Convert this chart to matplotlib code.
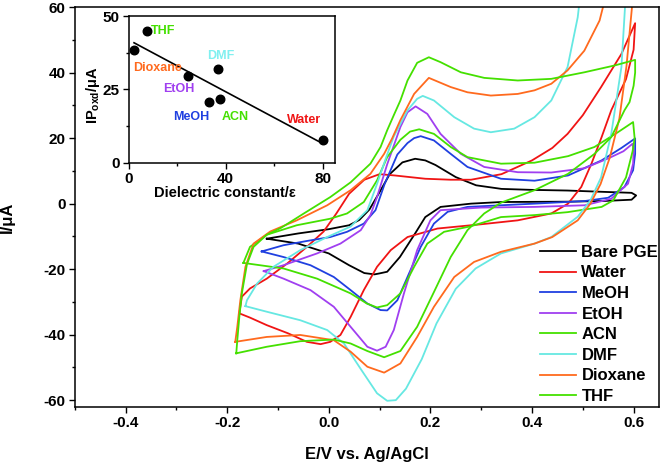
import numpy as np
import matplotlib
matplotlib.use('Agg')
import matplotlib.pyplot as plt
from matplotlib.ticker import MultipleLocator, FormatStrFormatter

plt.rcParams['font.family'] = ['Liberation Sans', 'DejaVu Sans']
plt.rcParams['font.weight'] = 'bold'
plt.rcParams['axes.labelweight'] = 'bold'
plt.rcParams['axes.unicode_minus'] = False
plt.rcParams['mathtext.fontset'] = 'custom'
plt.rcParams['mathtext.rm'] = 'Liberation Sans:bold'
plt.rcParams['mathtext.it'] = 'Liberation Sans:bold'
plt.rcParams['mathtext.bf'] = 'Liberation Sans:bold'

# cyclic voltammograms, E in V, I in uA (forward scan then reverse scan)
e_bare = [-0.122, -0.06, 0.00, 0.04, 0.06, 0.08, 0.10, 0.12, 0.145, 0.17, 0.19, 0.21, 0.25, 0.29, 0.34, 0.40, 0.47, 0.54, 0.596, 0.605,
          0.596, 0.54, 0.47, 0.34, 0.28, 0.22, 0.19, 0.17, 0.14, 0.115, 0.10, 0.09, 0.07, 0.04, 0.00, -0.06, -0.122]
i_bare = [-10.7, -9.1, -7.8, -6.6, -5.0, -1.8, 3.5, 9.0, 12.6, 13.7, 13.2, 11.8, 8.1, 5.6, 4.5, 4.2, 4.0, 3.6, 3.3, 2.5,
          1.2, 0.8, 0.6, 0.5, 0.0, -1.0, -4.1, -9.1, -16.3, -20.8, -21.3, -21.6, -21.2, -18.8, -15.2, -12.2, -10.7]

e_water = [-0.176, -0.171, -0.155, -0.122, -0.082, -0.043, -0.01, 0.015, 0.04, 0.07, 0.10, 0.13, 0.19, 0.24, 0.28, 0.34, 0.40, 0.44, 0.47, 0.50, 0.536, 0.576, 0.603,
           0.600, 0.585, 0.556, 0.537, 0.517, 0.497, 0.471, 0.438, 0.372, 0.30, 0.214, 0.155, 0.122, 0.095, 0.069, 0.043, 0.023, 0.003, -0.016, -0.043, -0.08, -0.122, -0.155, -0.176]
i_water = [-33.5, -28.4, -25.9, -22.9, -18.3, -13.2, -8.5, -3.0, 3.0, 7.3, 9.0, 8.6, 7.6, 7.3, 7.3, 9.0, 13.2, 17.0, 21.3, 27.0, 35.6, 45.7, 55.1,
           47.0, 38.0, 28.5, 20.3, 12.2, 5.1, 0.0, -3.0, -5.1, -6.3, -7.6, -10.2, -14.2, -19.3, -26.4, -34.6, -40.1, -42.2, -42.9, -42.2, -39.6, -37.1, -34.8, -33.5]

e_meoh = [-0.132, -0.089, -0.043, 0.003, 0.036, 0.069, 0.092, 0.11, 0.135, 0.155, 0.168, 0.181, 0.207, 0.240, 0.273, 0.339, 0.405, 0.471, 0.537, 0.576, 0.603,
          0.603, 0.599, 0.582, 0.55, 0.504, 0.405, 0.339, 0.273, 0.234, 0.207, 0.181, 0.155, 0.135, 0.115, 0.102, 0.076, 0.043, 0.010, -0.036, -0.089, -0.132]
i_meoh = [-14.6, -12.7, -11.4, -10.2, -8.6, -6.1, -2.0, 6.0, 15.0, 18.5, 20.0, 20.6, 19.3, 15.2, 11.2, 7.6, 7.0, 8.6, 13.2, 17.0, 19.9,
          15.2, 10.2, 5.1, 1.8, 0.8, 0.0, -0.5, -1.0, -2.5, -6.1, -13.2, -22.4, -29.5, -32.6, -32.5, -30.5, -26.4, -22.4, -18.8, -16.3, -14.6]

e_etoh = [-0.128, -0.089, -0.023, 0.023, 0.063, 0.082, 0.095, 0.115, 0.141, 0.155, 0.171, 0.194, 0.220, 0.260, 0.306, 0.372, 0.438, 0.503, 0.55, 0.580, 0.598,
          0.600, 0.599, 0.589, 0.556, 0.504, 0.405, 0.30, 0.22, 0.200, 0.174, 0.148, 0.128, 0.112, 0.095, 0.076, 0.043, 0.010, -0.036, -0.089, -0.128]
i_etoh = [-20.6, -18.8, -15.2, -12.2, -8.1, -3.5, 2.0, 12.0, 23.4, 27.9, 29.7, 27.4, 21.3, 15.2, 11.2, 9.6, 9.5, 10.8, 13.8, 16.0, 18.3,
          16.0, 12.2, 6.1, 1.5, -0.5, -1.0, -1.2, -2.0, -5.1, -14.2, -27.4, -38.6, -43.7, -44.9, -43.7, -37.6, -31.5, -26.4, -22.9, -20.6]

e_acn = [-0.168, -0.155, -0.122, -0.063, 0.003, 0.036, 0.069, 0.095, 0.115, 0.141, 0.160, 0.178, 0.207, 0.240, 0.273, 0.339, 0.405, 0.471, 0.523, 0.569, 0.599,
         0.602, 0.598, 0.585, 0.56, 0.537, 0.47, 0.405, 0.339, 0.280, 0.227, 0.194, 0.168, 0.141, 0.115, 0.095, 0.075, 0.043, -0.023, -0.089, -0.168]
i_acn = [-18.1, -13.2, -9.5, -6.6, -4.6, -3.0, 0.5, 7.1, 14.2, 19.5, 22.0, 22.7, 21.3, 17.3, 14.2, 12.2, 12.5, 14.5, 17.3, 21.8, 24.9,
         20.0, 16.0, 8.0, 1.0, -1.0, -2.6, -3.5, -4.1, -6.9, -8.6, -12.2, -19.3, -27.4, -31.0, -31.7, -30.5, -27.4, -22.9, -19.8, -18.1]

e_dmf = [-0.164, -0.161, -0.141, -0.109, -0.056, -0.003, 0.043, 0.076, 0.095, 0.115, 0.128, 0.155, 0.174, 0.185, 0.207, 0.247, 0.286, 0.319, 0.365, 0.405, 0.438, 0.470, 0.490, 0.496,
         0.585, 0.576, 0.556, 0.536, 0.515, 0.49, 0.438, 0.405, 0.339, 0.289, 0.250, 0.212, 0.183, 0.152, 0.132, 0.115, 0.095, 0.063, 0.030, -0.003, -0.056, -0.122, -0.164]
i_dmf = [-31.3, -29.5, -24.4, -19.3, -14.2, -10.2, -7.0, -2.0, 6.0, 15.0, 20.5, 28.5, 32.0, 32.9, 31.5, 26.4, 22.9, 21.8, 22.9, 26.4, 31.5, 41.7, 56.9, 65.0,
         65.0, 41.7, 21.3, 8.0, 1.0, -4.0, -10.2, -12.2, -15.2, -19.8, -26.0, -36.6, -47.5, -56.5, -60.0, -60.2, -57.9, -50.5, -42.7, -38.6, -35.6, -33.0, -31.3]

e_diox = [-0.184, -0.180, -0.174, -0.164, -0.148, -0.115, -0.063, -0.003, 0.043, 0.082, 0.109, 0.125, 0.141, 0.168, 0.197, 0.240, 0.273, 0.319, 0.372, 0.405, 0.438, 0.470, 0.503, 0.533, 0.543,
          0.598, 0.586, 0.572, 0.553, 0.535, 0.515, 0.490, 0.44, 0.405, 0.339, 0.286, 0.247, 0.207, 0.174, 0.141, 0.109, 0.076, 0.043, 0.010, -0.056, -0.122, -0.184]
i_diox = [-42.2, -37.6, -29.5, -19.3, -12.2, -8.5, -5.1, -0.5, 4.1, 9.1, 15.2, 20.0, 25.5, 33.5, 38.4, 35.6, 34.0, 33.0, 33.5, 34.6, 36.6, 40.7, 46.7, 55.9, 62.0,
          62.0, 42.0, 26.0, 14.0, 6.0, 0.0, -5.1, -10.2, -12.2, -14.7, -17.8, -22.4, -31.5, -40.7, -48.8, -51.6, -49.8, -45.2, -41.7, -40.1, -40.7, -42.2]

e_thf = [-0.182, -0.180, -0.176, -0.171, -0.161, -0.148, -0.122, -0.095, -0.049, 0.003, 0.043, 0.082, 0.102, 0.115, 0.128, 0.141, 0.155, 0.174, 0.197, 0.220, 0.260, 0.306, 0.372, 0.438, 0.503, 0.563, 0.603,
         0.603, 0.600, 0.592, 0.582, 0.556, 0.523, 0.471, 0.405, 0.339, 0.306, 0.273, 0.240, 0.207, 0.174, 0.141, 0.109, 0.076, 0.043, 0.010, -0.056, -0.122, -0.182]
i_thf = [-45.7, -41.7, -34.6, -27.4, -18.5, -13.2, -9.5, -7.5, -3.0, 2.0, 6.5, 12.2, 17.3, 22.4, 27.0, 31.5, 37.6, 43.0, 44.7, 43.2, 40.1, 38.4, 37.6, 38.1, 40.1, 42.2, 43.9,
         40.0, 36.0, 31.0, 28.5, 20.3, 15.2, 9.1, 4.1, 0.3, -3.0, -8.1, -16.3, -27.0, -37.6, -45.0, -46.9, -45.0, -42.7, -41.5, -42.0, -43.7, -45.7]

labels = ['Bare PGE', 'Water', 'MeOH', 'EtOH', 'ACN', 'DMF', 'Dioxane', 'THF']
colors = ['#000000', '#f01414', '#2040e0', '#a03ff0', '#44e000', '#66e8e2', '#ff6a1e', '#44e000']
curves = [(e_bare, i_bare), (e_water, i_water), (e_meoh, i_meoh), (e_etoh, i_etoh),
          (e_acn, i_acn), (e_dmf, i_dmf), (e_diox, i_diox), (e_thf, i_thf)]

# inset: oxidation peak current vs dielectric constant
solvents = ['Water', 'MeOH', 'EtOH', 'ACN', 'DMF', 'Dioxane', 'THF']
eps = [80, 33, 24.5, 37.5, 37, 2.2, 7.5]
ip_oxd = [7.8, 20.6, 29.6, 21.8, 32.0, 38.4, 44.8]
solv_colors = ['#f01414', '#2040e0', '#a03ff0', '#44e000', '#80f0f0', '#ff6a1e', '#44e000']
label_pos = [(65.3, 14.6), (18.3, 15.6), (14.1, 25.1), (38.5, 15.6), (32.3, 36.4), (1.8, 32.3), (9.2, 44.9)]

fig = plt.figure(figsize=(6.61, 4.63), dpi=100)
ax = fig.add_axes([0.113, 0.1216, 0.884, 0.863])

for (e, i), lab, c in zip(curves, labels, colors):
    ax.plot(e, i, color=c, lw=1.3, label=lab)

ax.set_xlim(-0.5, 0.65)
ax.set_ylim(-62, 60)
ax.xaxis.set_major_locator(MultipleLocator(0.2))
ax.xaxis.set_minor_locator(MultipleLocator(0.1))
ax.xaxis.set_major_formatter(FormatStrFormatter('%.1f'))
ax.yaxis.set_major_locator(MultipleLocator(20))
ax.yaxis.set_minor_locator(MultipleLocator(10))
ax.tick_params(which='major', direction='out', length=4.3, width=1.0, labelsize=11, pad=2.4)
ax.tick_params(which='minor', direction='out', length=2.4, width=1.0)
for s in ax.spines.values():
    s.set_linewidth(1.1)
ax.set_xlabel('E/V vs. Ag/AgCl', fontsize=12)
ax.xaxis.set_label_coords(0.5, -0.1016)
ax.xaxis.label.set_va('top')
ax.set_ylabel('I/μA', fontsize=12)
ax.yaxis.set_label_coords(-0.102, 0.475)

ax.legend(loc='upper left', bbox_to_anchor=(0.796, 0.405), frameon=False, fontsize=12,
          handlelength=2.2, handletextpad=0.3, labelspacing=0.335, borderpad=0, borderaxespad=0)

ins = fig.add_axes([0.1947, 0.6486, 0.312, 0.3168])
ins.set_facecolor('white')
ins.scatter(eps, ip_oxd, s=38, color='black', zorder=3)
k, b = np.polyfit(eps, ip_oxd, 1)
xf = np.array([min(eps), max(eps)])
ins.plot(xf, k * xf + b, color='black', lw=1.2)
for name, c, (tx, ty) in zip(solvents, solv_colors, label_pos):
    ins.text(tx, ty, name, color=c, fontsize=9, ha='left', va='center')
ins.set_xlim(0, 85)
ins.set_ylim(0, 50)
ins.xaxis.set_major_locator(MultipleLocator(40))
ins.xaxis.set_minor_locator(MultipleLocator(20))
ins.yaxis.set_major_locator(MultipleLocator(25))
ins.yaxis.set_minor_locator(MultipleLocator(12.5))
ins.tick_params(which='major', direction='out', length=4.3, width=1.0, labelsize=11, pad=2.4)
ins.tick_params(which='minor', direction='out', length=2.4, width=1.0)
for s in ins.spines.values():
    s.set_linewidth(1.1)
ins.set_xlabel('Dielectric constant/ε', fontsize=10.5)
ins.xaxis.set_label_coords(0.467, -0.159)
ins.xaxis.label.set_va('top')
ins.set_ylabel(r'IP$_{\mathrm{oxd}}$/μA', fontsize=10.5)
ins.yaxis.set_label_coords(-0.128, 0.46)

fig.savefig('out.png', dpi=100)
